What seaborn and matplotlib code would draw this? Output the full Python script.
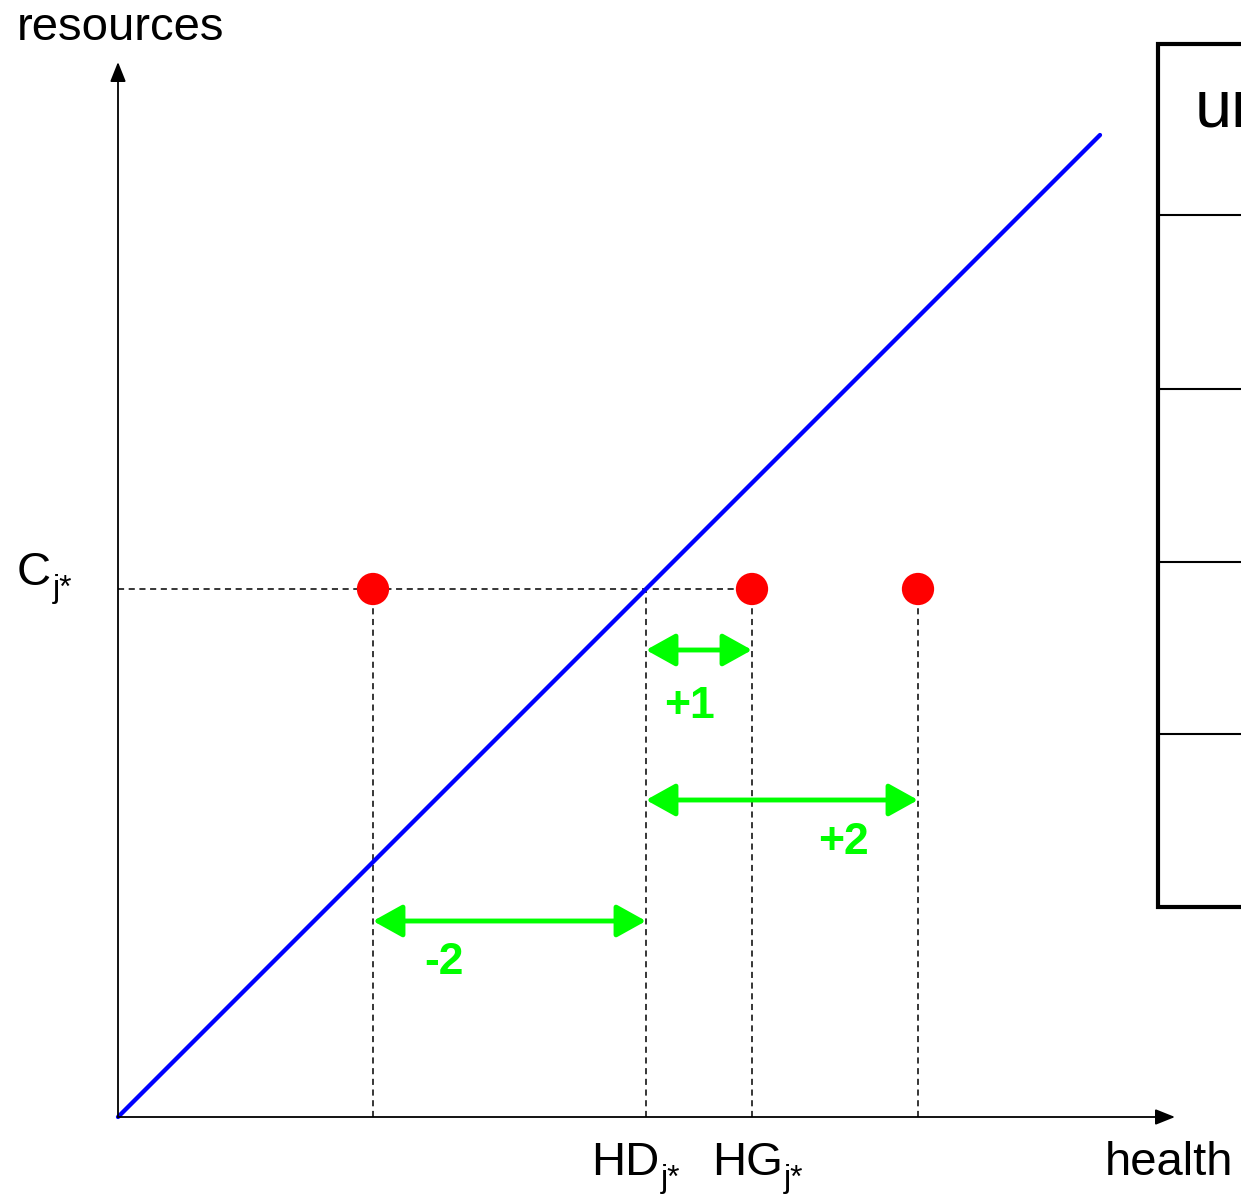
import numpy as np
import pandas as pd
import matplotlib
matplotlib.use("Agg")
import matplotlib.pyplot as plt
import seaborn as sns

# data (units: 1 = 100 px of the original drawing, origin at the axes corner)
C_j = 5.28             # resources level C_j*
HD_j = 5.28            # health where the diagonal crosses C_j*
HG_j = 6.34            # health given
point_health = [2.55, 6.34, 8.00]
point_labels = ['-2', '+1', '+2']
arrow_levels = [1.96, 4.67, 3.17]
line_health = [0.0, 9.82]
table_rows = [10.73, 9.02, 7.28, 5.55, 3.83, 2.10]
table_title = 'ur'

sns.set_theme(style='white')
plt.rcParams['font.family'] = ['Liberation Sans', 'DejaVu Sans']
plt.rcParams['text.color'] = 'black'

fig = plt.figure(figsize=(12.41, 11.97), dpi=100)
ax = fig.add_axes([0, 0, 1, 1])
ax.set_xlim(-1.18, 11.23)
ax.set_ylim(-0.80, 11.17)
ax.axis('off')

# axes with arrows
head = '-|>,head_length=0.75,head_width=0.3'
ax.annotate('', xy=(10.57, 0), xytext=(0, 0),
            arrowprops=dict(arrowstyle=head, color='black', lw=1.3,
                            mutation_scale=16, shrinkA=0, shrinkB=0))
ax.annotate('', xy=(0, 10.55), xytext=(0, 0),
            arrowprops=dict(arrowstyle=head, color='black', lw=1.3,
                            mutation_scale=16, shrinkA=0, shrinkB=0))

# diagonal
diag = pd.DataFrame({'health': line_health, 'resources': line_health})
sns.lineplot(data=diag, x='health', y='resources', color='#0000ff', lw=3.1, ax=ax)

# dashed guides
dash = dict(color='black', lw=1.1, ls=(0, (4, 3)), zorder=1)
ax.plot([0, max(point_health[:2])], [C_j, C_j], **dash)
for xv in point_health + [HD_j]:
    ax.plot([xv, xv], [0, C_j], **dash)

# points
pts = pd.DataFrame({'health': point_health, 'resources': [C_j] * len(point_health)})
sns.scatterplot(data=pts, x='health', y='resources', color='#ff0000', s=540,
                edgecolor='none', zorder=5, ax=ax)

# green gap arrows
for xv, lvl in zip(point_health, arrow_levels):
    ax.annotate('', xy=(xv, lvl), xytext=(HD_j, lvl),
                arrowprops=dict(arrowstyle='<|-|>,head_length=0.9,head_width=0.5',
                                color='#00ff00', lw=3.5, mutation_scale=20,
                                shrinkA=0, shrinkB=0), zorder=4)
label_pos = {'-2': (3.26, 1.55), '+1': (5.72, 4.11), '+2': (7.25, 2.75)}
for lab in point_labels:
    lx, ly = label_pos[lab]
    ax.text(lx, ly, lab, color='#00ff00', fontsize=32, fontweight='bold',
            ha='center', va='center')


def label_with_sub(x, y, main, sub):
    t = ax.text(x, y, main, fontsize=34, ha='left', va='baseline')
    ax.annotate(sub, xy=(1, y - 0.12), xycoords=(t, 'data'),
                xytext=(1, 0), textcoords='offset points',
                fontsize=23, ha='left', va='baseline')
    return t


# axis labels
ax.text(-1.01, 10.77, 'resources', fontsize=34, ha='left', va='baseline')
ax.text(9.87, -0.58, 'health', fontsize=34, ha='left', va='baseline')
label_with_sub(-1.01, C_j + 0.04, 'C', 'j*')
label_with_sub(HD_j - 0.55, -0.58, 'HD', 'j*')
label_with_sub(HG_j - 0.40, -0.58, 'HG', 'j*')

# table on the right (cut by the edge)
ax.plot([12.5, 10.40, 10.40, 12.5], [table_rows[0], table_rows[0], table_rows[-1], table_rows[-1]],
        color='black', lw=3, solid_joinstyle='miter')
for yv in table_rows[1:-1]:
    ax.plot([10.40, 12.5], [yv, yv], color='black', lw=1.5)
ax.text(10.77, 9.90, table_title, fontsize=48, ha='left', va='baseline',
        family=['Liberation Sans Narrow', 'Liberation Sans'])

fig.savefig('out.png', dpi=100)
